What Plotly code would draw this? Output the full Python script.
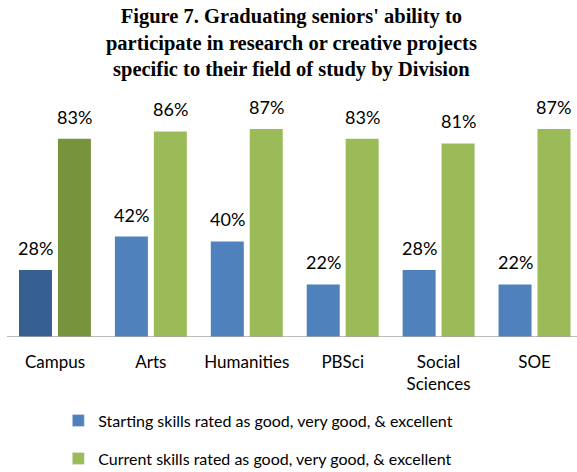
import plotly.graph_objects as go

categories = ["Campus", "Arts", "Humanities", "PBSci", "Social<br>Sciences", "SOE"]
starting = [0.28, 0.42, 0.40, 0.22, 0.28, 0.22]
current = [0.83, 0.86, 0.87, 0.83, 0.81, 0.87]
labels_start = ["28%", "42%", "40%", "22%", "28%", "22%"]
labels_curr = ["83%", "86%", "87%", "83%", "81%", "87%"]
name_start = "Starting skills rated as good, very good, & excellent"
name_curr = "Current skills rated as good, very good, & excellent"

blue, blue_dark = "#4F81BD", "#376092"
green, green_dark = "#9BBB59", "#77933C"

x = list(range(len(categories)))
W = 0.344
OFF_B, OFF_G = -0.375, 0.031
SANS = "Lato, Carlito, Calibri, sans-serif"
LABEL_FONT = dict(family=SANS, size=18, color="#000000")

fig = go.Figure()
fig.add_trace(go.Bar(x=x, y=starting, width=W, offset=OFF_B,
                     marker=dict(color=[blue_dark] + [blue] * 5, line=dict(width=0)),
                     showlegend=False, hoverinfo="skip"))
fig.add_trace(go.Bar(x=x, y=current, width=W, offset=OFF_G,
                     marker=dict(color=[green_dark] + [green] * 5, line=dict(width=0)),
                     showlegend=False, hoverinfo="skip"))
# legend entries
fig.add_trace(go.Bar(x=[None], y=[None], name=name_start, marker_color=blue,
                     legendgroup="a", showlegend=True))
fig.add_trace(go.Bar(x=[None], y=[None], name=name_curr, marker_color=green,
                     legendgroup="b", showlegend=True))

for i in x:
    fig.add_annotation(x=i + OFF_B + W / 2, y=starting[i], text=labels_start[i],
                       showarrow=False, yanchor="bottom", yshift=9, font=LABEL_FONT)
    fig.add_annotation(x=i + OFF_G + W / 2, y=current[i], text=labels_curr[i],
                       showarrow=False, yanchor="bottom", yshift=9, font=LABEL_FONT)

fig.update_layout(
    width=577, height=472,
    margin=dict(l=7, r=0, t=98, b=135, autoexpand=False),
    paper_bgcolor="white", plot_bgcolor="white",
    barmode="overlay",
    title=dict(text="Figure 7. Graduating seniors' ability to<br>participate in research or creative projects<br>specific to their field of study by Division",
               x=0.505, xanchor="center", y=1 - 23 / 472, yanchor="middle",
               font=dict(family="Liberation Serif, serif", size=20.5, color="#000000", weight="bold")),
    xaxis=dict(tickmode="array", tickvals=x, ticktext=categories, range=[-0.5, 5.443],
               showgrid=False, zeroline=False, showline=False, ticks="",
               ticklabelstandoff=13,
               tickfont=dict(family=SANS, size=17, color="#000000")),
    yaxis=dict(range=[0, 1], visible=False, showgrid=False, zeroline=False),
    legend=dict(x=0.09, xanchor="left", y=-0.279, yanchor="top", orientation="v",
                tracegroupgap=14, traceorder="grouped",
                font=dict(family=SANS, size=16, color="#000000"),
                itemwidth=30),
    shapes=[dict(type="line", xref="paper", yref="y", x0=0, x1=1, y0=0, y1=0,
                 line=dict(color="#A6A6A6", width=1.5))],
)

fig.write_html("out.html")
